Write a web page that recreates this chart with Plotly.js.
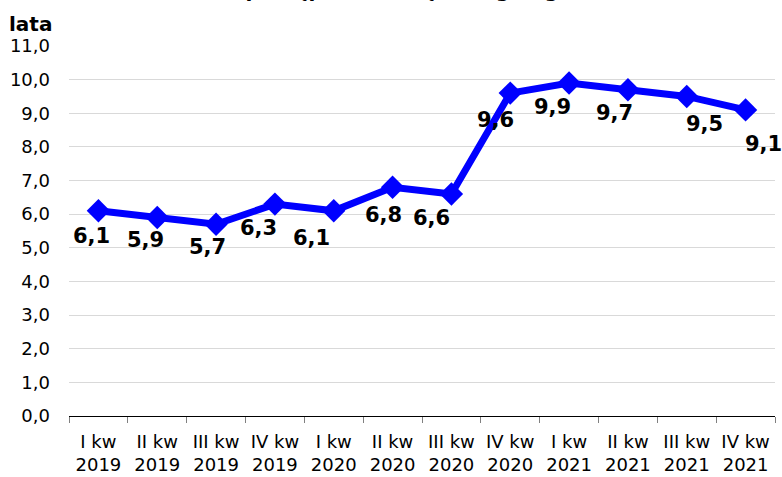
<!DOCTYPE html>
<html>
<head>
<meta charset="utf-8">
<script src="https://cdn.plot.ly/plotly-3.0.1.min.js"></script>
<style>html,body{margin:0;padding:0;background:#fff;}#chart{width:782px;height:477px;}</style>
</head>
<body>
<div id="chart"></div>
<script>
// Data
const quarters = ["I kw", "II kw", "III kw", "IV kw", "I kw", "II kw", "III kw", "IV kw", "I kw", "II kw", "III kw", "IV kw"];
const years = ["2019", "2019", "2019", "2019", "2020", "2020", "2020", "2020", "2021", "2021", "2021", "2021"];
const values = [6.1, 5.9, 5.7, 6.3, 6.1, 6.8, 6.6, 9.6, 9.9, 9.7, 9.5, 9.1];
const yTicks = [0, 1, 2, 3, 4, 5, 6, 7, 8, 9, 10, 11];

// Layout offsets for value labels (pixels, right / down)
const labelDx = [-7, -12, -9, -16, -22, -9, -20, -15, -17, -13, 18, 18];
const labelDy = [25, 22, 23, 24, 27, 28, 24, 27, 24, 23, 28, 34];

const categories = quarters.map((q, i) => q + "<br>" + years[i]);
const fmt = v => v.toFixed(1).replace(".", ",");

const trace = {
  x: categories,
  y: values,
  type: "scatter",
  mode: "lines+markers",
  line: {color: "#0000FF", width: 7},
  marker: {symbol: "diamond", size: 18, color: "#0000FF"},
  hoverinfo: "skip"
};

const annotations = values.map((v, i) => ({
  x: categories[i], y: v, xref: "x", yref: "y",
  text: fmt(v), showarrow: false,
  xshift: labelDx[i], yshift: -labelDy[i],
  font: {family: "DejaVu Sans, Verdana, sans-serif", size: 21, color: "#000", weight: "bold"}
}));

annotations.push({
  text: "<b>lata</b>", xref: "paper", yref: "paper", x: -0.055, y: 1.0,
  xanchor: "center", yanchor: "bottom", showarrow: false, yshift: 8,
  font: {family: "DejaVu Sans, Verdana, sans-serif", size: 20, color: "#000"}
});

const layout = {
  width: 782, height: 477,
  margin: {l: 69, r: 7, t: 46, b: 61, pad: 0},
  paper_bgcolor: "#fff", plot_bgcolor: "#fff",
  showlegend: false,
  title: {
    text: "<b>Średni czas postępowania sądowego ogółem (w latach)</b>",
    x: 0.5, xref: "paper", y: 1, yref: "container", yanchor: "bottom",
    pad: {b: 3},
    font: {family: "DejaVu Sans, Verdana, sans-serif", size: 20, color: "#000"}
  },
  xaxis: {
    type: "category",
    tickson: "boundaries",
    ticks: "outside", ticklen: 6, tickcolor: "#808080", tickwidth: 1,
    showline: true, linecolor: "#000", linewidth: 1,
    showgrid: false, zeroline: false,
    ticklabelstandoff: 9,
    tickfont: {family: "DejaVu Sans, Tahoma, sans-serif", size: 18, color: "#000"},
    range: [-0.5, 11.5]
  },
  yaxis: {
    range: [0, 11],
    tickvals: yTicks,
    ticktext: yTicks.map(fmt),
    showgrid: true, gridcolor: "#d9d9d9", gridwidth: 1,
    zeroline: false, showline: false, ticks: "",
    ticklabelstandoff: 18,
    tickfont: {family: "DejaVu Sans, Tahoma, sans-serif", size: 18, color: "#000"}
  },
  annotations: annotations
};

Plotly.newPlot("chart", [trace], layout, {displayModeBar: false, staticPlot: true});
</script>
</body>
</html>
